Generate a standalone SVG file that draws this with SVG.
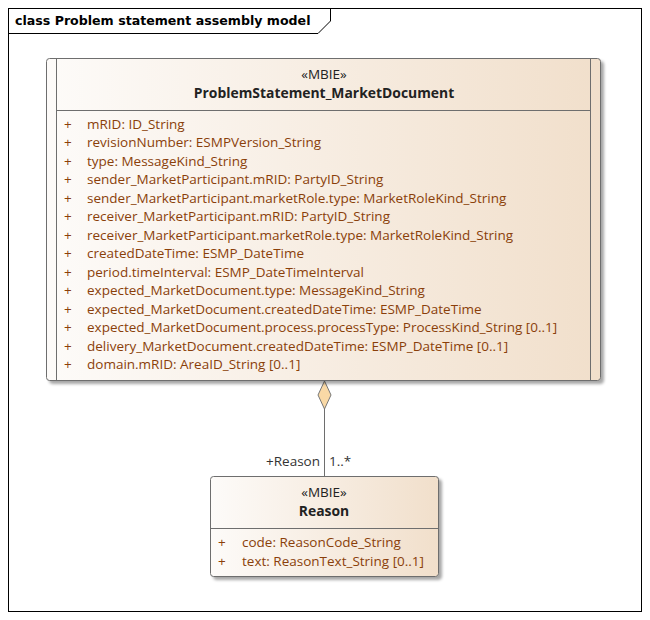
<svg xmlns="http://www.w3.org/2000/svg" width="650" height="620" viewBox="0 0 650 620">
<defs>
<linearGradient id="g" x1="0" y1="0" x2="1" y2="0">
<stop offset="0" stop-color="#fdfbf9"/>
<stop offset="1" stop-color="#f1dfcb"/>
</linearGradient>
<filter id="sh" x="-5%" y="-5%" width="115%" height="115%">
<feGaussianBlur in="SourceAlpha" stdDeviation="1.5"/>
<feOffset dx="3" dy="3"/>
<feComponentTransfer><feFuncA type="linear" slope="0.35"/></feComponentTransfer>
<feMerge><feMergeNode/><feMergeNode in="SourceGraphic"/></feMerge>
</filter>
</defs>
<style>
text{font-family:"Open Sans","DejaVu Sans",sans-serif;font-size:13.5px}
.st{fill:#222;text-anchor:middle;font-size:13.5px}
.nm{fill:#222;text-anchor:middle;font-weight:bold;font-size:13.9px}
.at{fill:#8a3f0a}
.box{fill:url(#g);stroke:#6e6e6e;stroke-width:1}
.ln{stroke:#6e6e6e;stroke-width:1;fill:none}
.lbl{fill:#333}
</style>
<rect width="650" height="620" fill="#fff"/>
<g id="frame">
<rect x="8.5" y="8.5" width="633" height="603" fill="none" stroke="#000" stroke-width="1"/>
<path d="M8.5,33.5 H318 L330.5,21 V8.5" fill="none" stroke="#000" stroke-width="1"/>
<text x="15" y="25" style="font-family:'DejaVu Sans',sans-serif;font-weight:bold;font-size:12.6px;fill:#000">class Problem statement assembly model</text>
</g>
<g id="connectors">
<line class="ln" x1="324.5" y1="408" x2="324.5" y2="476"/>
<path d="M324.5,381 L331,395 L324.5,409 L318,395 Z" fill="#f9d9a6" stroke="#777" stroke-width="1"/>
<text class="lbl" x="320" y="466" text-anchor="end">+Reason</text>
<text class="lbl" x="329" y="466">1..*</text>
</g>
<g id="ProblemStatement_MarketDocument">
<rect class="box" x="46.5" y="58.5" width="554" height="322" rx="3" filter="url(#sh)"/>
<line class="ln" x1="56.5" y1="58.5" x2="56.5" y2="380.5"/>
<line class="ln" x1="590.5" y1="58.5" x2="590.5" y2="380.5"/>
<line class="ln" x1="56.5" y1="110.5" x2="590.5" y2="110.5"/>
<text class="st" x="324" y="79">«MBIE»</text>
<text class="nm" x="324" y="98">ProblemStatement_MarketDocument</text>
<g class="at">
<text x="64" y="129">+</text><text x="87" y="129">mRID: ID_String</text>
<text x="64" y="147">+</text><text x="87" y="147">revisionNumber: ESMPVersion_String</text>
<text x="64" y="166">+</text><text x="87" y="166">type: MessageKind_String</text>
<text x="64" y="184">+</text><text x="87" y="184">sender_MarketParticipant.mRID: PartyID_String</text>
<text x="64" y="203">+</text><text x="87" y="203">sender_MarketParticipant.marketRole.type: MarketRoleKind_String</text>
<text x="64" y="221">+</text><text x="87" y="221">receiver_MarketParticipant.mRID: PartyID_String</text>
<text x="64" y="240">+</text><text x="87" y="240">receiver_MarketParticipant.marketRole.type: MarketRoleKind_String</text>
<text x="64" y="258">+</text><text x="87" y="258">createdDateTime: ESMP_DateTime</text>
<text x="64" y="277">+</text><text x="87" y="277">period.timeInterval: ESMP_DateTimeInterval</text>
<text x="64" y="295">+</text><text x="87" y="295">expected_MarketDocument.type: MessageKind_String</text>
<text x="64" y="314">+</text><text x="87" y="314">expected_MarketDocument.createdDateTime: ESMP_DateTime</text>
<text x="64" y="332">+</text><text x="87" y="332">expected_MarketDocument.process.processType: ProcessKind_String [0..1]</text>
<text x="64" y="351">+</text><text x="87" y="351">delivery_MarketDocument.createdDateTime: ESMP_DateTime [0..1]</text>
<text x="64" y="369">+</text><text x="87" y="369">domain.mRID: AreaID_String [0..1]</text>
</g>
</g>
<g id="Reason">
<rect class="box" x="210.5" y="476.5" width="228" height="100" rx="3" filter="url(#sh)"/>
<line class="ln" x1="210.5" y1="528.5" x2="438.5" y2="528.5"/>
<text class="st" x="324" y="497">«MBIE»</text>
<text class="nm" x="324" y="516">Reason</text>
<g class="at">
<text x="218" y="547">+</text><text x="242" y="547">code: ReasonCode_String</text>
<text x="218" y="566">+</text><text x="242" y="566">text: ReasonText_String [0..1]</text>
</g>
</g>
</svg>
